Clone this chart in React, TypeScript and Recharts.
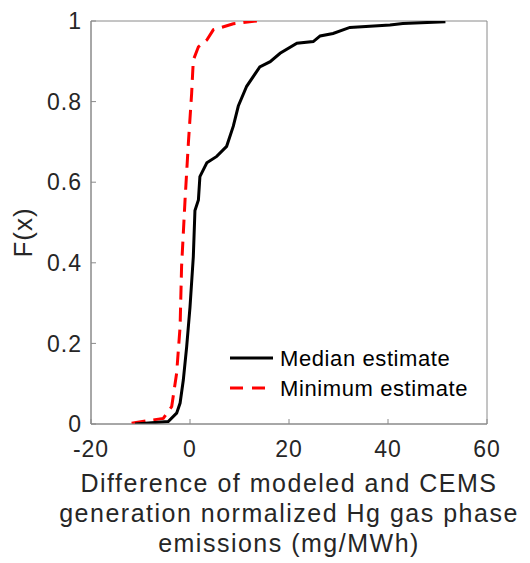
import React from 'react';
import { LineChart, Line, XAxis, YAxis, ReferenceArea, Legend } from 'recharts';

const medianX = [-11.1, -4.4, -2.7, -2.0, -1.35, -0.67, 0, 0.67, 1.0, 1.7, 2.0, 3.4, 5.4, 7.4, 8.75, 9.76, 11.45, 14.1, 16.2, 18.2, 21.6, 24.9, 26.3, 28.9, 32.3, 40.4, 43, 51.6];
const medianY = [0, 0.006, 0.027, 0.052, 0.109, 0.192, 0.29, 0.415, 0.53, 0.556, 0.614, 0.648, 0.664, 0.689, 0.739, 0.789, 0.838, 0.886, 0.899, 0.92, 0.945, 0.949, 0.963, 0.969, 0.984, 0.99, 0.994, 0.998];
const minimumX = [-11.8, -5.4, -3.7, -2.7, -2.0, -1.7, -1.0, -0.33, 0.33, 0.67, 1.7, 3.4, 4.7, 8.75, 13.5];
const minimumY = [0.002, 0.014, 0.043, 0.126, 0.242, 0.391, 0.556, 0.697, 0.82, 0.903, 0.936, 0.953, 0.978, 0.993, 1.0];
const xTicks = [-20, 0, 20, 40, 60];
const yTicks = [0, 0.2, 0.4, 0.6, 0.8, 1];
const seriesNames = ['Median estimate', 'Minimum estimate'];
const xTitleLines = ['Difference of modeled and CEMS', 'generation normalized Hg gas phase', 'emissions (mg/MWh)'];
const yTitle = 'F(x)';

const medianData = medianX.map((x, i) => ({ x, y: medianY[i] }));
const minimumData = minimumX.map((x, i) => ({ x, y: minimumY[i] }));

const FONT = '"Liberation Sans", Arial, sans-serif';
const TEXT = '#262626';
const AXIS = '#8a8a8a';

const XTick = (p: any) => (
  <g>
    <line x1={p.x} y1={p.y} x2={p.x} y2={p.y - 5} stroke={AXIS} strokeWidth={1} />
    <text x={p.x} y={p.y + 33} textAnchor="middle" fontFamily={FONT} fontSize={23} letterSpacing={1} fill={TEXT}>
      {p.payload.value}
    </text>
  </g>
);

const YTick = (p: any) => (
  <g>
    <line x1={p.x} y1={p.y} x2={p.x + 5} y2={p.y} stroke={AXIS} strokeWidth={1} />
    <text x={p.x - 9} y={p.y} dy="0.36em" textAnchor="end" fontFamily={FONT} fontSize={23} letterSpacing={1} fill={TEXT}>
      {String(p.payload.value)}
    </text>
  </g>
);

const XTitle = (p: any) => {
  const vb = p.viewBox;
  const cx = vb.x + vb.width / 2;
  return (
    <g>
      {xTitleLines.map((t, i) => (
        <text key={i} x={cx} y={vb.y + 68 + i * 30} textAnchor="middle" fontFamily={FONT} fontSize={25} letterSpacing={1.5} fill={TEXT}>
          {t}
        </text>
      ))}
    </g>
  );
};

const YTitle = (p: any) => {
  const vb = p.viewBox;
  const cx = 15;
  const cy = vb.y + vb.height / 2 + 10;
  return (
    <text x={cx} y={cy} transform={`rotate(-90 ${cx} ${cy})`} dy="0.36em" textAnchor="middle" fontFamily={FONT} fontSize={26} letterSpacing={1} fill={TEXT}>
      {yTitle}
    </text>
  );
};

const LegendContent = () => (
  <svg width={260} height={70} style={{ display: 'block' }}>
    <line x1={7} y1={20} x2={50} y2={20} stroke="#000" strokeWidth={3} />
    <text x={57} y={20} dy="0.36em" fontFamily={FONT} fontSize={22} letterSpacing={0.6} fill="#000">{seriesNames[0]}</text>
    <line x1={7} y1={50} x2={50} y2={50} stroke="#ff0000" strokeWidth={3} strokeDasharray="13 9" />
    <text x={57} y={50} dy="0.36em" fontFamily={FONT} fontSize={22} letterSpacing={0.6} fill="#000">{seriesNames[1]}</text>
  </svg>
);

export default function App() {
  return (
    <div style={{ width: 522, height: 555 }}>
      <LineChart width={522} height={555} margin={{ top: 13, right: 43, left: 0, bottom: 0 }}>
        <XAxis
          dataKey="x"
          type="number"
          domain={[-20, 60]}
          ticks={xTicks}
          height={139}
          tickSize={0}
          tickMargin={0}
          tickLine={false}
          axisLine={{ stroke: AXIS }}
          tick={XTick}
          label={{ content: XTitle }}
          allowDataOverflow
        />
        <YAxis
          type="number"
          domain={[0, 1]}
          ticks={yTicks}
          width={83}
          tickSize={0}
          tickMargin={0}
          tickLine={false}
          axisLine={{ stroke: AXIS }}
          tick={YTick}
          label={{ content: YTitle }}
          allowDataOverflow
        />
        <ReferenceArea x1={-20} x2={60} y1={0} y2={1} fill="none" stroke={AXIS} strokeWidth={1} ifOverflow="visible" />
        <Line data={minimumData} dataKey="y" name={seriesNames[1]} type="linear" stroke="#ff0000" strokeWidth={3} strokeDasharray="14 8" dot={false} isAnimationActive={false} />
        <Line data={medianData} dataKey="y" name={seriesNames[0]} type="linear" stroke="#000000" strokeWidth={3} dot={false} isAnimationActive={false} />
        <Legend
          content={LegendContent}
          layout="horizontal"
          verticalAlign="middle"
          align="center"
          wrapperStyle={{ position: 'absolute', left: 215, top: 330, width: 260, height: 70 }}
        />
      </LineChart>
    </div>
  );
}
